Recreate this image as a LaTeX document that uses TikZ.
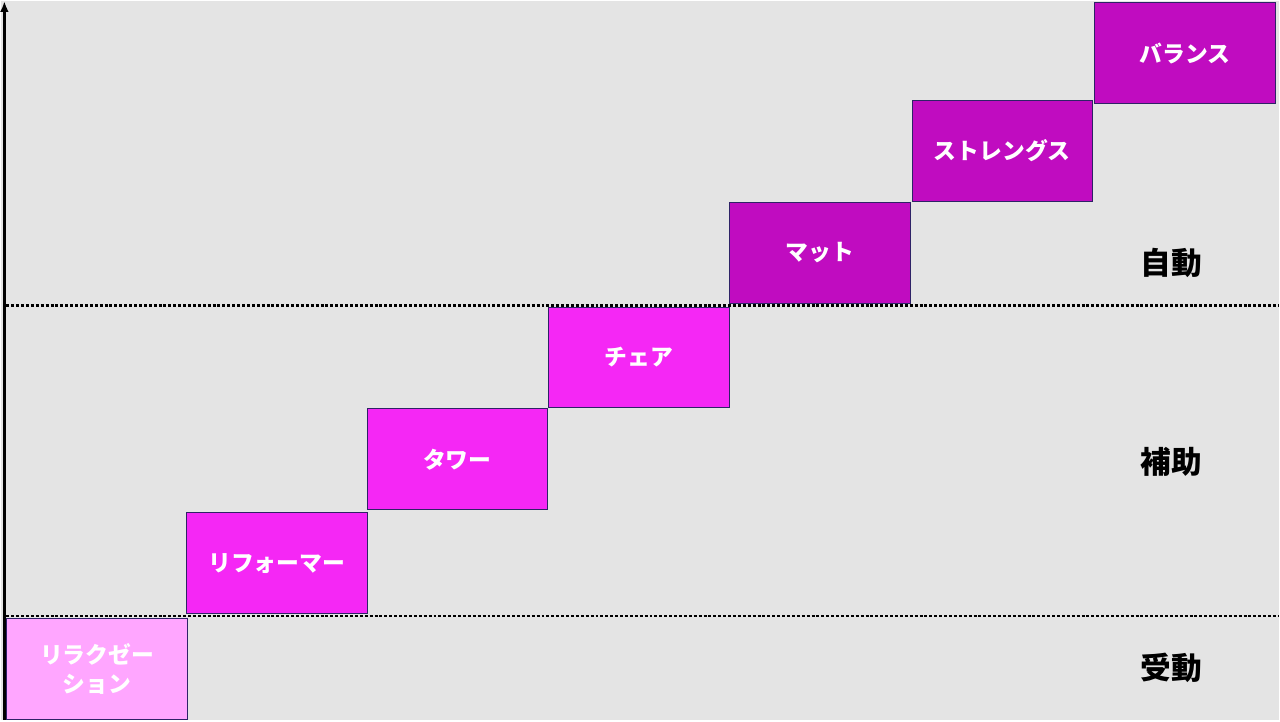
\documentclass[tikz,border=0pt]{standalone}
\usepackage{fontspec}
\setmainfont{Noto Sans CJK JP}
\usetikzlibrary{arrows.meta}
\definecolor{bggray}{HTML}{E4E4E4}
\definecolor{passive}{HTML}{FFA6FF}
\definecolor{assist}{HTML}{F527F5}
\definecolor{active}{HTML}{C00CC0}
\definecolor{boxline}{HTML}{2E2266}

\begin{document}
\begin{tikzpicture}[x=0.02cm, y=-0.02cm,
    box/.style={draw=boxline, line width=0.5pt, text=white, inner sep=0pt,
      font=\bfseries\fontsize{13}{17}\selectfont, align=center,
      minimum width=3.62cm, minimum height=2.02cm, anchor=north west},
    level/.style={font=\bfseries\fontsize{17.5}{20}\selectfont},
    border/.style={line width=1.4pt, dash pattern=on 1.7pt off 1.1pt}]
    \fill[bggray] (0,0) rectangle (1280,720);
    % borders between the levels
    \coordinate (upL) at (5,305);   \coordinate (upR) at (1280,305);
    \coordinate (loL) at (5,616);   \coordinate (loR) at (1280,616);
    \draw[border] (upL) -- (upR);
    \draw[border] (loL) -- (loR);
    % axis
    \coordinate (axbot) at (3,720);
    \coordinate (axtop) at (3,0);
    \draw[line width=1.5pt, -{Latex[length=6pt,width=5pt]}] (axbot) -- (axtop);
    % steps
    \node[box, fill=passive] (relax) at (5,618) {リラクゼー\\ション};
    \node[box, fill=assist] (reformer) at (185,512) {リフォーマー};
    \node[box, fill=assist] (tower) at (366,408) {タワー};
    \node[box, fill=assist] (chair) at (548,306) {チェア};
    \node[box, fill=active] (mat) at (729,201) {マット};
    \node[box, fill=active] (strength) at (912,99) {ストレングス};
    \node[box, fill=active] (balance) at (1095,1) {バランス};
    % levels
    \node[level] (jido) at (1172,262) {自動};
    \node[level] (hojo) at (1172,462) {補助};
    \node[level] (judo) at (1172,668) {受動};
\end{tikzpicture}
\end{document}
